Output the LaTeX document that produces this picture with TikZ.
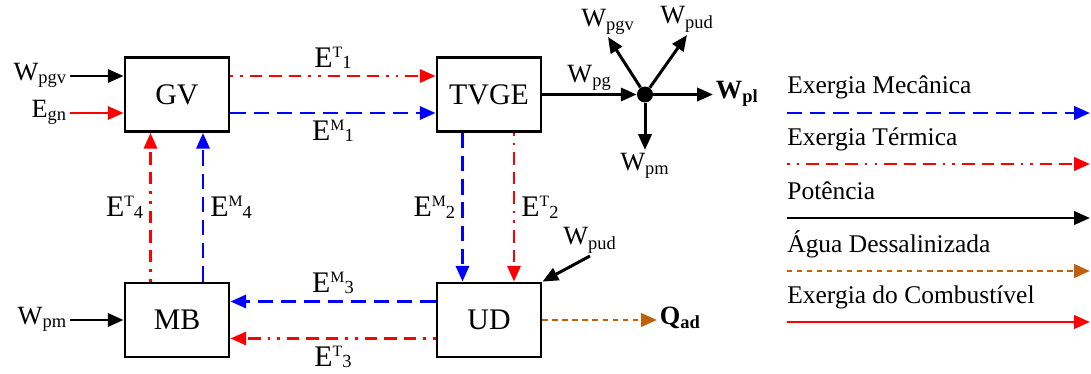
\documentclass[tikz,border=0pt]{standalone}
\usepackage{fontspec}
\setmainfont{Liberation Serif}
\usetikzlibrary{arrows.meta, positioning, calc}
\definecolor{mecblue}{RGB}{0,0,255}
\definecolor{termred}{RGB}{255,0,0}
\definecolor{aguabrown}{RGB}{191,97,10}

% E com indice superior (tipo) e inferior (fluxo)
\newcommand{\Ex}[2]{E\raisebox{5.6pt}{\fontsize{9}{9}\selectfont #1}\raisebox{-0.8pt}{\fontsize{10.5}{10.5}\selectfont #2}}

\tikzset{
  bloco/.style={draw, line width=1.6pt, minimum width=2.08cm, minimum height=1.48cm, font=\fontsize{17}{20}\selectfont},
  seta/.style={-{Triangle[length=9pt,width=7.5pt]}, line width=1.7pt},
  mec/.style={seta, mecblue, dash pattern=on 8.7pt off 4.5pt},
  term/.style={seta, termred, dash pattern=on 1.5pt off 4pt on 1.5pt off 4pt on 7.1pt off 4pt on 7.1pt off 4pt on 7.1pt off 4pt},
  pot/.style={seta, black},
  agua/.style={seta, aguabrown, dash pattern=on 3pt off 2.7pt},
  comb/.style={seta, termred},
  rot/.style={font=\fontsize{17}{20}\selectfont, text=black},
  rotw/.style={font=\fontsize{15}{18}\selectfont, text=black, inner sep=1.5pt},
  leg/.style={font=\fontsize{14.5}{17}\selectfont, anchor=base west, inner sep=0pt},
}

\begin{document}
\begin{tikzpicture}
  \useasboundingbox (0,0) rectangle (21.82,-7.48);
  % blocos
  \node[bloco] (GV) at (3.54,-1.89) {GV};
  \node[bloco] (TVGE) at (9.78,-1.89) {TVGE};
  \node[bloco] (MB) at (3.54,-6.40) {MB};
  \node[bloco] (UD) at (9.78,-6.40) {UD};

  % fluxos de exergia entre os blocos
  \draw[term] ([yshift=0.37cm]GV.east) -- node[above, rot] (lET1) {\Ex{T}{1}} ([yshift=0.37cm]TVGE.west);
  \draw[mec] ([yshift=-0.37cm]GV.east) -- node[below, rot] (lEM1) {\Ex{M}{1}} ([yshift=-0.37cm]TVGE.west);
  \draw[mec] ([xshift=-0.53cm]TVGE.south) -- node[left, rot] (lEM2) {\Ex{M}{2}} ([xshift=-0.53cm]UD.north);
  \draw[term] ([xshift=0.5cm]TVGE.south) -- node[right, rot] (lET2) {\Ex{T}{2}} ([xshift=0.5cm]UD.north);
  \draw[mec] ([yshift=0.37cm]UD.west) -- node[above, rot] (lEM3) {\Ex{M}{3}} ([yshift=0.37cm]MB.east);
  \draw[term] ([yshift=-0.37cm]UD.west) -- node[below, rot] (lET3) {\Ex{T}{3}} ([yshift=-0.37cm]MB.east);
  \draw[term] ([xshift=-0.53cm]MB.north) -- node[left, rot] (lET4) {\Ex{T}{4}} ([xshift=-0.53cm]GV.south);
  \draw[mec] ([xshift=0.52cm]MB.north) -- node[right, rot] (lEM4) {\Ex{M}{4}} ([xshift=0.52cm]GV.south);

  % entradas
  \coordinate (iWpgv) at (1.4,-1.52);
  \coordinate (iEgn) at (1.4,-2.26);
  \coordinate (iWpm) at (1.4,-6.40);
  \node[rotw, anchor=mid east] (lWpgv) at (iWpgv) {W\textsubscript{pgv}};
  \node[rotw, anchor=mid east] (lEgn) at (iEgn) {E\textsubscript{gn}};
  \node[rotw, anchor=mid east] (lWpm) at (iWpm) {W\textsubscript{pm}};
  \draw[pot] (iWpgv) -- (iWpgv -| GV.west);
  \draw[comb] (iEgn) -- (iEgn -| GV.west);
  \draw[pot] (iWpm) -- (iWpm -| MB.west);

  % distribuicao da potencia
  \node[circle, fill, inner sep=0pt, minimum size=0.32cm] (J) at (12.9,-1.89) {};
  \draw[pot] (TVGE.east) -- node[above, rotw] (lWpg) {W\textsubscript{pg}} (J);
  \coordinate (oWpl) at (14.26,-1.89);
  \coordinate (oWpgv) at (12.16,-0.74);
  \coordinate (oWpud) at (13.74,-0.70);
  \coordinate (oWpm) at (12.9,-3.0);
  \draw[pot] (J) -- (oWpl);
  \draw[pot] (J) -- (oWpgv);
  \draw[pot] (J) -- (oWpud);
  \draw[pot] (J) -- (oWpm);
  \node[rotw, anchor=mid west] (lWpl) at (oWpl) {\textbf{W\textsubscript{pl}}};
  \node[rotw, anchor=south] (lWpgv2) at (oWpgv) {W\textsubscript{pgv}};
  \node[rotw, anchor=south] (lWpud) at (oWpud) {W\textsubscript{pud}};
  \node[rotw, anchor=north] (lWpm2) at (oWpm) {W\textsubscript{pm}};

  % unidade de dessalinizacao
  \coordinate (iWpud) at (11.8,-5.12);
  \node[rotw, anchor=south] (lWpud2) at (iWpud) {W\textsubscript{pud}};
  \draw[pot] (iWpud) -- (UD.north east);
  \coordinate (oQad) at (13.14,-6.40);
  \draw[agua] (UD.east) -- (oQad);
  \node[rotw, anchor=mid west] (lQad) at (oQad) {\textbf{Q\textsubscript{ad}}};

  % legenda
  \node[leg] (lgMec) at (15.74,-1.88) {Exergia Mecânica};
  \node[leg] (lgTerm) at (15.74,-2.90) {Exergia Térmica};
  \node[leg] (lgPot) at (15.74,-3.98) {Potência};
  \node[leg] (lgAgua) at (15.74,-5.04) {Água Dessalinizada};
  \node[leg] (lgComb) at (15.74,-6.06) {Exergia do Combustível};
  \draw[mec] ([yshift=-0.38cm]lgMec.base west) -- ++(6.06,0);
  \draw[term] ([yshift=-0.38cm]lgTerm.base west) -- ++(6.06,0);
  \draw[pot] ([yshift=-0.38cm]lgPot.base west) -- ++(6.06,0);
  \draw[agua] ([yshift=-0.38cm]lgAgua.base west) -- ++(6.06,0);
  \draw[comb] ([yshift=-0.38cm]lgComb.base west) -- ++(6.06,0);
\end{tikzpicture}
\end{document}
